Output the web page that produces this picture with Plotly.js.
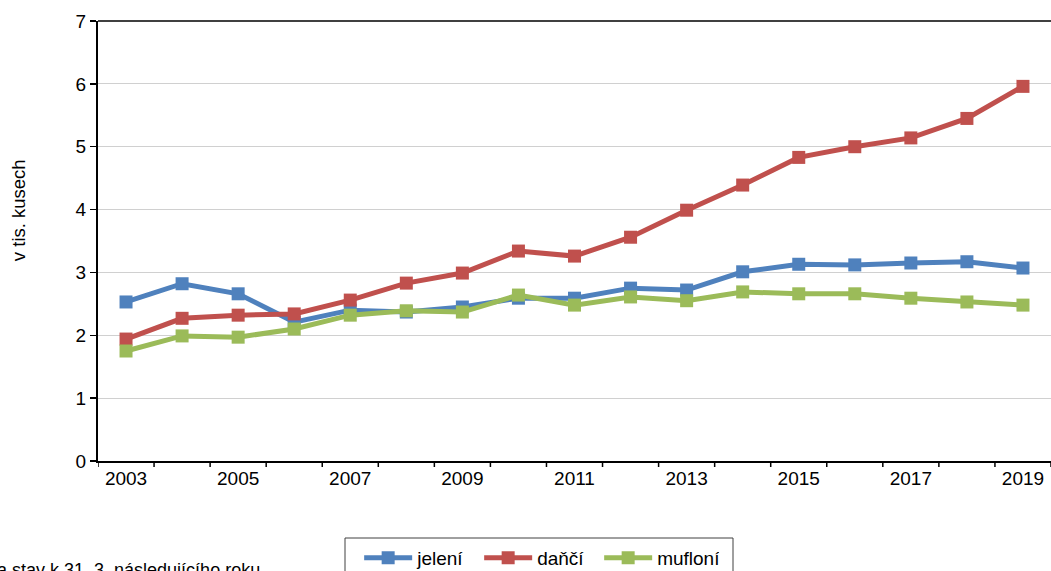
<!DOCTYPE html>
<html>
<head>
<meta charset="utf-8">
<script src="https://cdn.plot.ly/plotly-3.0.1.min.js"></script>
<style>html,body{margin:0;padding:0;background:#fff;}#chart{width:1051px;height:571px;}</style>
</head>
<body>
<div id="chart"></div>
<script>
const years = [2003,2004,2005,2006,2007,2008,2009,2010,2011,2012,2013,2014,2015,2016,2017,2018,2019];
const jeleni = [2.53,2.82,2.66,2.21,2.40,2.37,2.45,2.59,2.59,2.75,2.72,3.01,3.13,3.12,3.15,3.17,3.07];
const danci  = [1.94,2.27,2.32,2.34,2.56,2.83,2.99,3.34,3.26,3.56,3.99,4.39,4.83,5.00,5.14,5.45,5.96];
const mufloni= [1.75,1.99,1.97,2.10,2.32,2.39,2.37,2.64,2.48,2.61,2.55,2.69,2.66,2.66,2.59,2.53,2.48];
const seriesNames = ['jelení','daňčí','mufloní'];
const yTitle = 'v tis. kusech';
const footnote = 'a stav k 31. 3. následujícího roku';
const labelYears = years.filter((y,i)=> i%2===0);
const boundaries = years.map(y=>y-0.5).concat([years[years.length-1]+0.5]);

const colors = ['#4f81bd','#c0504d','#9bbb59'];
const font = {family:'Liberation Sans, Arial, sans-serif', size:19, color:'#000'};
function tr(vals,i){
  return {x:years, y:vals, name:seriesNames[i], type:'scatter', mode:'lines+markers',
    line:{color:colors[i], width:5}, marker:{symbol:'square', size:13, color:colors[i]}};
}
const data = [tr(jeleni,0), tr(danci,1), tr(mufloni,2)];
const xr = [years[0]-0.5, years[years.length-1]+0.5];
const plotH = 440;
const tickShapes = boundaries.map(b => ({type:'line', xref:'x', yref:'paper', x0:b, x1:b, y0:0, y1:-6/plotH,
  line:{color:'#000', width:1.5}}));
const layout = {
  width:1051, height:571,
  margin:{l:98, r:0, t:21, b:110, autoexpand:false},
  paper_bgcolor:'#fff', plot_bgcolor:'#fff',
  font:font,
  showlegend:true,
  legend:{orientation:'h', xref:'container', yref:'container', x:0.513, xanchor:'center', y:0.056, yanchor:'top',
    bgcolor:'rgba(0,0,0,0)', borderwidth:0, font:font, traceorder:'normal', itemwidth:48, entrywidth:57},
  xaxis:{type:'linear', range:xr,
    tickmode:'array', tickvals:labelYears, ticktext:labelYears.map(String), ticks:'',
    showline:true, linecolor:'#000', linewidth:1.5, showgrid:false, zeroline:false,
    tickfont:font, fixedrange:true},
  yaxis:{range:[0,7], dtick:1, ticks:'outside', ticklen:6, tickcolor:'#000', tickwidth:1.5,
    showline:true, linecolor:'#000', linewidth:2, showgrid:true, gridcolor:'#d0d0d0', gridwidth:1,
    zeroline:false, tickfont:font},
  shapes:[{type:'line', xref:'paper', yref:'paper', x0:0, x1:1, y0:1, y1:1, line:{color:'#000', width:1.5}},
    {type:'rect', xref:'paper', yref:'paper', x0:(345-98)/953, x1:(733-98)/953, y0:-(538-461)/plotH, y1:-(580-461)/plotH,
      line:{color:'#404040', width:1}, fillcolor:'rgba(0,0,0,0)'}].concat(tickShapes),
  annotations:[
    {text:footnote, xref:'paper', yref:'paper', x:-0.108, xanchor:'left',
      y:-0.2477, yanchor:'middle', showarrow:false, font:{family:font.family, size:18, color:'#000'}},
    {text:yTitle, xref:'paper', yref:'paper', x:-0.084, xanchor:'center', y:0.57, yanchor:'middle',
      textangle:-90, showarrow:false, font:{family:font.family, size:18.5, color:'#000'}}
  ]
};
Plotly.newPlot('chart', data, layout, {displayModeBar:false, staticPlot:true});
</script>
</body>
</html>
